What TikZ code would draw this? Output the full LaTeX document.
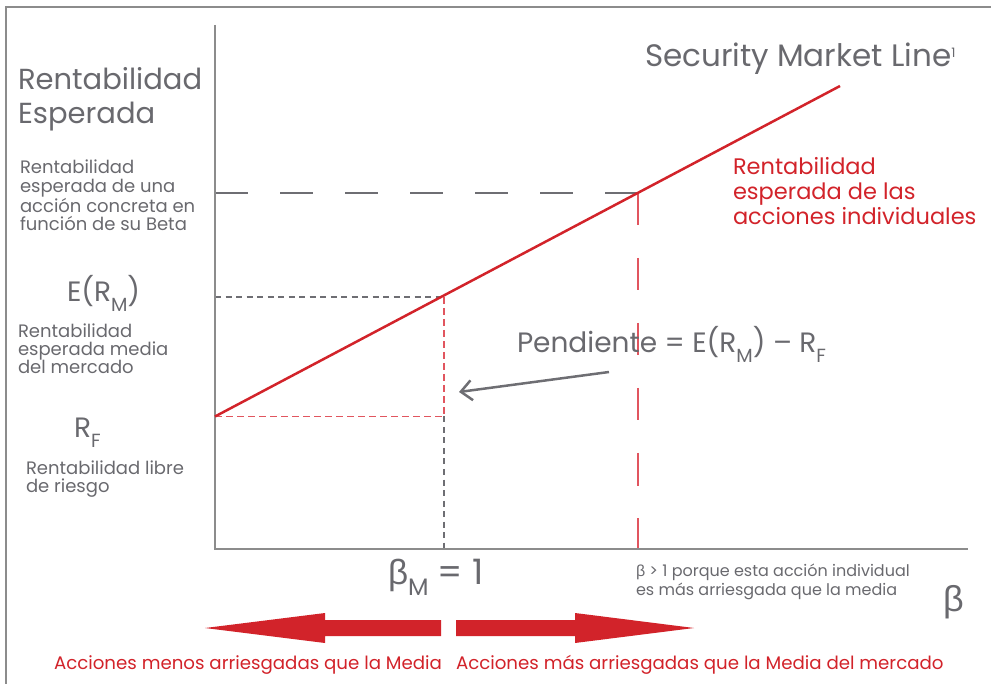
\documentclass[tikz,border=0pt]{standalone}
\usepackage{fontspec}
\setmainfont{Poppins}
\newfontfamily\grk{Liberation Sans}
\usetikzlibrary{arrows.meta}
\definecolor{txtgray}{RGB}{105,105,110}
\definecolor{axgray}{RGB}{140,140,140}
\definecolor{smlred}{RGB}{210,35,42}
\definecolor{dashred}{RGB}{225,85,95}
\definecolor{dashgray}{RGB}{110,110,115}
\newcommand{\lowsub}[1]{\raisebox{-0.33em}{\scalebox{0.68}{#1}}}
\newcommand{\fsz}[2]{\fontsize{#1}{#2}\selectfont}
\tikzset{
  framestyle/.style={draw=axgray, line width=1.5pt},
  axisstyle/.style={draw=axgray, line width=2.5pt},
  smlstyle/.style={draw=smlred, line width=2.5pt},
  bigdashgray/.style={draw=dashgray, line width=1.4pt, dash pattern=on 32.5pt off 32.5pt},
  bigdashred/.style={draw=dashred, line width=2pt, dash pattern=on 32.5pt off 32.5pt},
  finegray/.style={draw=dashgray, line width=1.2pt, dash pattern=on 6pt off 4.5pt},
  finered/.style={draw=dashred, line width=1.6pt, dash pattern=on 7pt off 4pt},
  lbl/.style={inner sep=0pt, outer sep=0pt, text=txtgray, align=left, anchor=base west},
  redlbl/.style={lbl, text=smlred},
  pointer/.style={draw=dashgray, line width=2.5pt, -{Straight Barb[length=11pt,width=20pt,line width=2.5pt]}},
  bigarrow/.style={fill=smlred, draw=none}
}
\begin{document}
\begin{tikzpicture}[x=1pt,y=-1pt]
\useasboundingbox (0,0) rectangle (991,684);
% frame
\draw[framestyle] (6,684) -- (6,7) -- (991,7);
% key points
\coordinate (Ytop) at (215,25);
\coordinate (O) at (215,549);
\coordinate (Xend) at (968,549);
\coordinate (RF) at (215,416.5);
\coordinate (M) at (444,297);
\coordinate (I) at (638,193);
\coordinate (E) at (840,86);
\coordinate (Mx) at (444,549);
\coordinate (Ix) at (638,549);
\coordinate (My) at (215,297);
\coordinate (Iy) at (215,193);
\coordinate (Mr) at (444,416.5);
% dashed guides
\draw[bigdashgray] (Iy) -- (I);
\draw[bigdashred] (I) -- (Ix);
\draw[finegray] (My) -- (M);
\draw[finered] (M) -- (Mr);
\draw[finegray] (Mr) -- (Mx);
\draw[finered] (RF) -- (Mr);
% axes
\draw[axisstyle] (Ytop) -- (O) -- (Xend);
% SML
\draw[smlstyle] (RF) -- (E);
% labels (multi-line nodes: base = baseline of last line)
\node[lbl, font=\fsz{29}{34}] (ytitle) at (18,124) {Rentabilidad\\Esperada};
\node[lbl, font=\fsz{18}{18.7}] (lab1) at (20,231) {Rentabilidad\\esperada de una\\acción concreta en\\función de su Beta};
\node[lbl, font=\fsz{28}{30}] (erm) at (67,302) {E(R\lowsub{M})};
\node[lbl, font=\fsz{18}{18}] (lab2) at (18,374) {Rentabilidad\\esperada media\\del mercado};
\node[lbl, font=\fsz{28}{30}] (rf) at (74,438) {R\lowsub{F}};
\node[lbl, font=\fsz{18}{18}] (lab3) at (26,493) {Rentabilidad libre\\de riesgo};
\node[lbl, font=\fsz{31}{33}] (smltitle) at (645,67) {Security Market Line\raisebox{9pt}{\fsz{13}{13}1}};
\node[redlbl, font=\fsz{22.5}{25}] (indiv) at (733,225) {Rentabilidad\\esperada de las\\acciones individuales};
\node[lbl, font=\fsz{28}{30}] (pend) at (517,353) {Pendiente = E(R\lowsub{M}) – R\lowsub{F}};
\node[lbl, font=\fsz{35}{37}] (betam) at (388,584) {{\grk β}\lowsub{M} = 1};
\node[lbl, font=\fsz{16}{19}] (betanote) at (636,595) {{\grk β} > 1 porque esta acción individual\\es más arriesgada que la media};
\node[lbl, font=\fsz{36}{38}] (betaax) at (943,611) {{\grk β}};
\node[redlbl, font=\fsz{18.2}{19}] (menos) at (54,669) {Acciones menos arriesgadas que la Media};
\node[redlbl, font=\fsz{18.2}{19}] (mas) at (456,669) {Acciones más arriesgadas que la Media del mercado};
% slope pointer
\coordinate (pa) at (609,372);
\coordinate (pb) at (459,392);
\draw[pointer] (pa) -- (pb);
% big red arrows
\fill[bigarrow] (205,628) -- (325,613) -- (325,620) -- (441,620) -- (441,636) -- (325,636) -- (325,643) -- cycle;
\fill[bigarrow] (694,628) -- (575,613) -- (575,620) -- (456,620) -- (456,636) -- (575,636) -- (575,643) -- cycle;
\end{tikzpicture}
\end{document}
